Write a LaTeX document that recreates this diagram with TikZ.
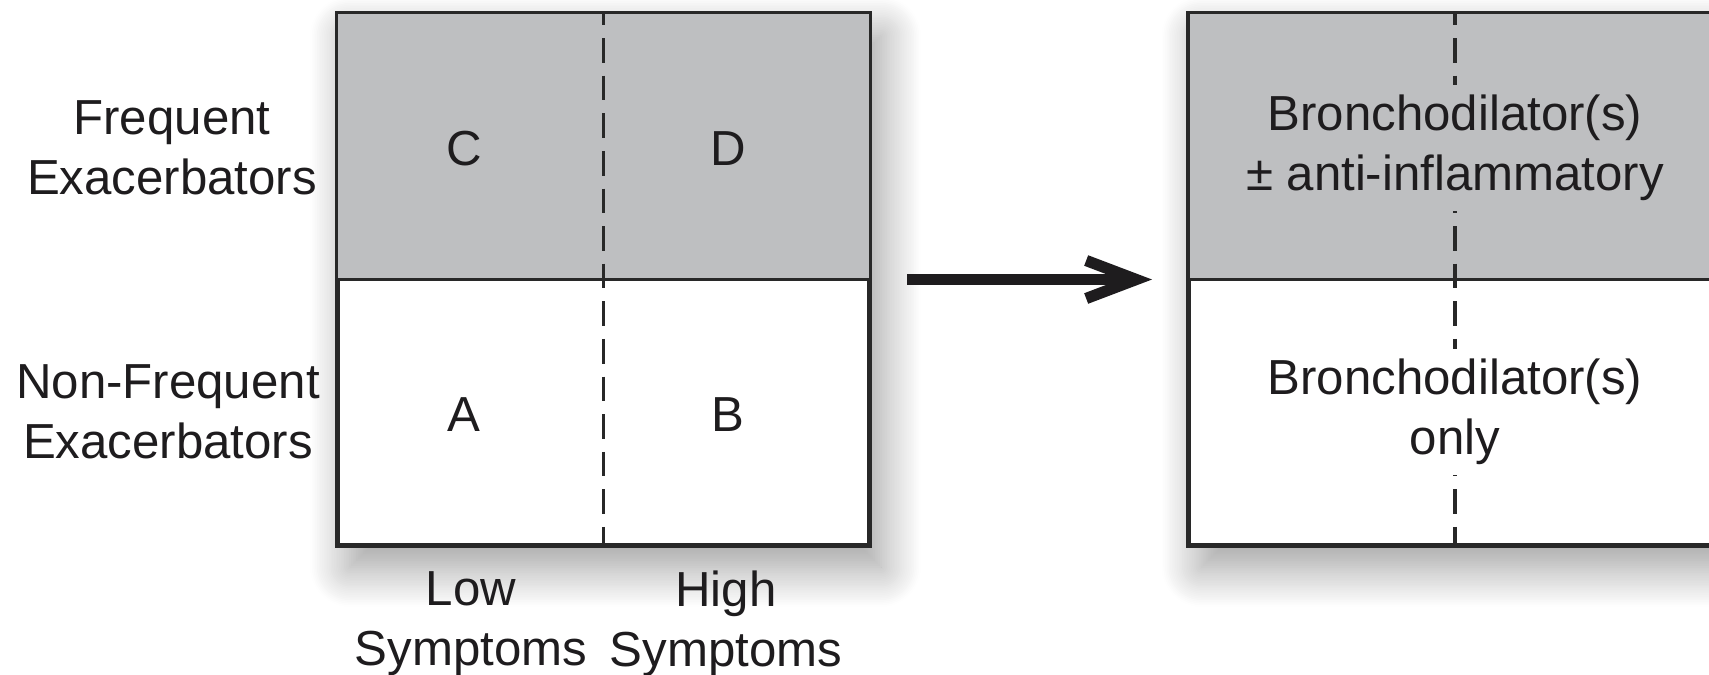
\documentclass[tikz,border=0pt]{standalone}
\usepackage{fontspec}
\setmainfont{Liberation Sans}
\usepackage{xcolor}
\usetikzlibrary{positioning,arrows.meta,shadows.blur}

\definecolor{cellgray}{RGB}{190,191,193}
\definecolor{rulegray}{RGB}{40,40,40}
\definecolor{inkgray}{RGB}{30,28,30}

\tikzset{
  panel/.style={draw=rulegray,line width=0.9pt,fill=white,inner sep=0pt,
    minimum width=5.31cm,minimum height=5.31cm,
    blur shadow={shadow xshift=1.2mm,shadow yshift=-2.2mm,
      shadow blur radius=4mm,shadow blur steps=24,shadow opacity=40}},
  splitline/.style={draw=rulegray,line width=0.9pt,
    dash pattern=on 7pt off 3.7pt,dash phase=3.4pt},
  txt/.style={align=center,inner sep=0pt,text=inkgray,
    font=\fontsize{14}{17}\selectfont},
  covertxt/.style={txt,inner sep=3pt}
}

\begin{document}
\begin{tikzpicture}

    \clip (0,0) rectangle (17.09,6.74);
    \useasboundingbox (0,0) rectangle (17.09,6.74);
          % Fixes the page to the size of the picture.

    \node[panel] (panelL) at (6.035,3.945) {};
    \node[panel] (panelR) at (14.55,3.945) {};
          % The two square panels with their shadow
    \foreach \p in {panelL,panelR}{% Gray upper half, mid line, dashes, border
      \fill[cellgray] (\p.north west) rectangle (\p.east);
      \draw[rulegray,line width=0.9pt] (\p.west) -- (\p.east);
      \draw[splitline] (\p.north) -- (\p.south);
      \draw[rulegray,line width=0.9pt] (\p.north west) rectangle (\p.south east);
    }

    \foreach \lbl/\x/\y in {C/4.64/5.25,D/7.28/5.25,A/4.64/2.59,B/7.28/2.59}{%
      \node[txt] (cell\lbl) at (\x,\y) {\lbl};
          % Letters of the four groups
    }

		\node[txt] (freq) at (1.72,5.26) {Frequent\\Exacerbators};
		\node[txt] (nonfreq) at (1.68,2.62) {Non-Frequent\\Exacerbators};
		\node[txt] (low) at (4.71,0.505) {Low\\Symptoms};
		\node[txt] (high) at (7.26,0.505) {High\\Symptoms};

		\node[covertxt,fill=cellgray] (treatTop) at (14.55,5.26)
		  {Bronchodilator(s)\\± anti-inflammatory};
		\node[covertxt,fill=white] (treatBot) at (14.55,2.62)
		  {Bronchodilator(s)\\only};

		\coordinate (arrowTail) at (9.07,3.945);
		\coordinate (arrowTip) at (11.52,3.945);
		\draw[inkgray,line width=3.2pt,-{Straight Barb[length=5mm,width=3.8mm]}]
		  (arrowTail) -- (arrowTip);
\end{tikzpicture}
\end{document}
